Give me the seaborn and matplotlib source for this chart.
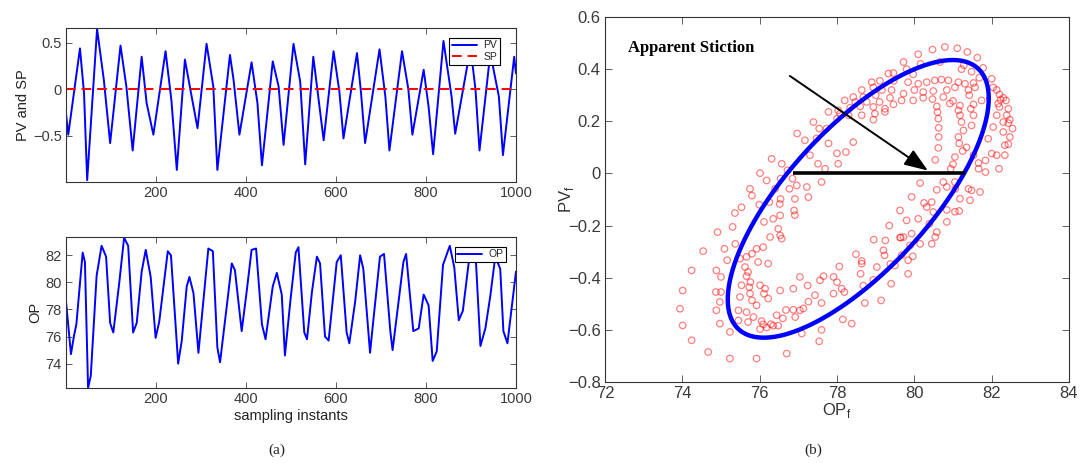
import numpy as np
import pandas as pd
import matplotlib
matplotlib.use("Agg")
import matplotlib.pyplot as plt
import seaborn as sns

# ---------------- data ----------------
# PV (read at extrema / knees of the trace)
pv_x = [1, 6, 32, 41, 48, 70, 85, 99, 122, 135, 149, 169, 180, 195, 222, 235, 247,
        265, 280, 293, 313, 328, 337, 365, 373, 386, 413, 426, 436, 460, 473, 484,
        506, 521, 532, 550, 561, 573, 595, 608, 617, 647, 656, 665, 697, 710, 719,
        747, 761, 770, 795, 806, 816, 839, 857, 865, 899, 910, 919, 943, 962, 971,
        996, 1000]
pv_y = [-0.26, -0.49, 0.44, -0.04, -0.98, 0.65, 0.10, -0.58, 0.47, 0.03, -0.66, 0.35,
        -0.15, -0.49, 0.41, -0.12, -0.87, 0.32, -0.08, -0.42, 0.49, 0.03, -0.87, 0.37,
        0.10, -0.49, 0.29, -0.15, -0.82, 0.30, 0.03, -0.60, 0.49, 0.08, -0.81, 0.35,
        -0.08, -0.55, 0.41, -0.03, -0.53, 0.39, -0.04, -0.58, 0.43, -0.08, -0.66,
        0.41, 0.0, -0.49, 0.21, -0.19, -0.70, 0.52, -0.08, -0.48, 0.45, 0.0, -0.66,
        0.39, -0.08, -0.71, 0.35, 0.17]
sp_x = [1, 1000]
sp_y = [0.0, 0.0]

# OP
op_x = [0, 12, 19, 24, 38, 43, 50, 56, 69, 80, 90, 99, 106, 119, 130, 139, 150, 158,
        169, 178, 189, 200, 208, 227, 234, 250, 258, 269, 275, 284, 295, 317, 327,
        337, 343, 361, 369, 376, 391, 402, 413, 423, 436, 444, 460, 469, 480, 487,
        499, 511, 517, 530, 536, 547, 558, 565, 576, 584, 602, 611, 624, 630, 643,
        654, 661, 676, 683, 698, 707, 721, 726, 739, 750, 756, 772, 784, 795, 806,
        815, 824, 838, 853, 863, 873, 882, 897, 910, 921, 932, 943, 954, 965, 972,
        981, 1000]
op_y = [78.95, 74.7, 76.1, 76.9, 82.2, 81.5, 72.2, 73.1, 80.5, 82.7, 81.9, 77.0, 76.3,
        79.9, 83.3, 82.7, 76.3, 77.0, 80.8, 82.4, 80.4, 75.9, 77.1, 82.3, 82.0, 74.0,
        75.7, 79.7, 80.4, 79.2, 74.8, 82.5, 82.3, 75.2, 74.1, 79.1, 81.4, 80.9, 76.4,
        79.3, 82.4, 82.5, 76.9, 75.8, 79.7, 80.7, 79.1, 74.6, 78.6, 82.2, 82.6, 76.3,
        75.8, 79.3, 81.9, 81.4, 76.0, 75.7, 81.5, 82.0, 76.3, 75.5, 78.6, 82.0, 81.0,
        74.8, 77.1, 81.9, 82.1, 76.4, 75.0, 78.5, 81.5, 82.1, 76.4, 76.6, 79.1, 78.3,
        74.2, 74.9, 81.3, 82.7, 81.1, 77.2, 77.9, 82.0, 82.2, 75.3, 76.6, 79.0, 81.9,
        81.0, 76.4, 75.5, 80.8]

# filtered OP vs PV scatter
opf = [80.79, 81.11, 80.47, 80.10, 81.37, 81.63, 79.72, 80.16, 80.66, 81.28, 81.78,
       79.80, 79.46, 79.33, 81.22, 81.48, 82.00, 81.68, 79.97, 79.11, 78.90, 79.47,
       79.84, 80.10, 80.32, 80.53, 80.70, 80.88, 81.14, 81.31, 81.53, 82.04, 82.13,
       82.20, 82.30, 82.37, 82.23, 82.17, 78.64, 78.94, 79.16, 79.41, 79.72, 80.00,
       80.23, 80.49, 80.84, 81.05, 81.40, 81.57, 81.42, 78.42, 78.68, 79.00, 79.37,
       79.67, 79.97, 80.23, 80.47, 80.75, 81.00, 81.74, 82.43, 82.20, 78.20, 78.47,
       78.77, 79.10, 79.46, 80.58, 80.92, 81.18, 81.53, 82.13, 82.39, 78.03, 78.34,
       78.60, 78.94, 79.24, 80.60, 81.14, 81.46, 82.47, 82.43, 82.54, 77.78, 78.08,
       78.64, 78.98, 79.24, 80.62, 81.18, 81.53, 82.04, 82.47, 82.43, 82.30, 82.30,
       77.39, 77.54, 77.73, 78.00, 78.30, 78.94, 80.63, 81.22, 81.27, 81.48, 81.91,
       82.34, 82.13, 82.34, 82.19, 76.97, 77.17, 77.47, 77.78, 77.30, 78.00, 78.23,
       78.42, 78.03, 77.51, 77.69, 80.63, 80.62, 81.14, 81.16, 81.35, 81.25, 81.05,
       80.54, 81.00, 81.53, 81.66, 81.84, 81.84, 81.66, 82.00, 76.31, 76.57, 76.72,
       76.01, 76.85, 76.54, 76.18, 75.75, 75.80, 76.40, 76.77, 76.96, 77.22, 77.60,
       77.26, 76.91, 76.54, 76.25, 76.52, 76.89, 76.91, 75.99, 75.53, 75.36, 80.15,
       79.93, 80.25, 80.45, 80.58, 80.84, 81.05, 80.75, 80.94, 81.06, 81.18, 81.40,
       81.48, 81.70, 81.44, 80.84, 81.05, 81.16, 80.84, 79.63, 79.80, 80.10, 80.32,
       80.49, 80.39, 80.58, 80.54, 80.45, 80.15, 79.89, 79.63, 79.65, 79.96, 79.84,
       79.67, 79.84, 79.35, 78.95, 79.20, 79.23, 79.25, 79.38, 79.50, 79.40, 79.72,
       79.93, 79.03, 78.94, 79.14, 78.72, 78.49, 78.64, 78.61, 78.64, 78.68, 78.38,
       78.15, 78.06, 78.00, 78.19, 77.91, 77.65, 77.60, 77.60, 77.54, 77.26, 77.43,
       77.24, 77.13, 77.09, 76.87, 76.68, 76.60, 76.44, 76.70, 76.53, 76.22, 76.14,
       76.11, 76.01, 76.09, 76.05, 75.92, 76.35, 76.18, 76.01, 75.84, 75.92, 75.80,
       75.75, 75.73, 75.76, 75.66, 75.70, 75.62, 75.96, 76.22, 75.92, 75.80, 75.66,
       75.49, 75.53, 75.49, 75.45, 75.66, 75.70, 75.45, 75.23, 75.23, 74.97, 74.88,
       74.97, 74.87, 75.00, 74.88, 75.00, 75.09, 74.91, 75.30, 75.37, 75.16, 74.54,
       74.24, 74.01, 73.94, 74.01, 74.24, 74.67, 76.09, 76.27, 76.53, 76.57, 76.35,
       76.53, 76.11, 76.48, 77.04, 77.91, 78.12, 77.56, 76.92, 77.04, 76.87, 76.48,
       76.29]
pvf = [0.485, 0.480, 0.475, 0.457, 0.466, 0.444, 0.427, 0.420, 0.427, 0.415, 0.405,
       0.400, 0.385, 0.383, 0.400, 0.390, 0.363, 0.367, 0.380, 0.355, 0.350, 0.355,
       0.350, 0.344, 0.350, 0.357, 0.360, 0.357, 0.350, 0.344, 0.347, 0.330, 0.320,
       0.303, 0.290, 0.280, 0.283, 0.268, 0.320, 0.330, 0.320, 0.320, 0.306, 0.320,
       0.312, 0.316, 0.320, 0.330, 0.320, 0.330, 0.300, 0.293, 0.293, 0.300, 0.290,
       0.280, 0.280, 0.290, 0.285, 0.293, 0.278, 0.280, 0.248, 0.255, 0.280, 0.274,
       0.274, 0.274, 0.265, 0.257, 0.268, 0.260, 0.265, 0.223, 0.223, 0.242, 0.252,
       0.257, 0.255, 0.248, 0.235, 0.242, 0.248, 0.206, 0.193, 0.172, 0.236, 0.229,
       0.223, 0.229, 0.236, 0.210, 0.223, 0.223, 0.178, 0.140, 0.112, 0.159, 0.197,
       0.197, 0.172, 0.172, 0.210, 0.223, 0.206, 0.175, 0.197, 0.165, 0.184, 0.133,
       0.108, 0.070, 0.070, 0.018, 0.153, 0.127, 0.134, 0.115, 0.070, 0.077, 0.082,
       0.120, 0.037, 0.037, 0.018, 0.140, 0.098, 0.140, 0.115, 0.100, 0.086, 0.063,
       0.052, 0.035, 0.070, 0.040, 0.050, 0.005, 0.018, 0.076, 0.056, 0.037, 0.012,
       0.001, -0.020, -0.020, -0.027, -0.059, -0.085, -0.059, -0.059, -0.046, -0.052,
       -0.033, -0.091, -0.098, -0.098, -0.110, -0.117, -0.142, -0.160, -0.120, -0.130,
       -0.152, -0.037, -0.090, -0.113, -0.110, -0.063, -0.052, -0.033, -0.033, 0.018,
       -0.059, -0.097, -0.059, -0.065, -0.071, -0.103, -0.140, -0.147, -0.144, -0.186,
       -0.142, -0.180, -0.174, -0.129, -0.148, -0.193, -0.225, -0.244, -0.270, -0.270,
       -0.276, -0.246, -0.246, -0.318, -0.333, -0.314, -0.385, -0.200, -0.254, -0.295,
       -0.314, -0.257, -0.347, -0.353, -0.423, -0.244, -0.231, -0.359, -0.408, -0.487,
       -0.497, -0.310, -0.346, -0.385, -0.336, -0.430, -0.576, -0.560, -0.357, -0.417,
       -0.455, -0.397, -0.394, -0.497, -0.600, -0.644, -0.492, -0.467, -0.430, -0.518,
       -0.614, -0.442, -0.524, -0.556, -0.544, -0.691, -0.449, -0.480, -0.442, -0.461,
       -0.429, -0.579, -0.566, -0.710, -0.584, -0.591, -0.597, -0.551, -0.506, -0.487,
       -0.461, -0.436, -0.417, -0.394, -0.378, -0.359, -0.340, -0.346, -0.289, -0.308,
       -0.320, -0.327, -0.429, -0.474, -0.525, -0.532, -0.570, -0.564, -0.608, -0.710,
       -0.576, -0.525, -0.493, -0.455, -0.455, -0.372, -0.397, -0.289, -0.225, -0.205,
       -0.270, -0.333, -0.298, -0.372, -0.449, -0.519, -0.583, -0.640, -0.685, -0.283,
       -0.244, -0.238, -0.250, -0.174, -0.161, -0.186, -0.212, -0.397, -0.461, -0.442,
       -0.410, -0.551, -0.525, -0.523, -0.584, -0.578]

# fitted ellipse parameters (centre, semi-axes, phase)
ell_cx, ell_cy, ell_a, ell_b, ell_phi = 78.55, -0.0975, 3.375, 0.5325, 0.81
# apparent stiction marks
stic_op = [76.86, 81.30]
stic_pv = [0.0, 0.0]
arrow_from = (76.78, 0.374)
arrow_to = (80.35, 0.011)
label_pos = (72.6, 0.48)

# ---------------- plotting ----------------
sns.set_theme(style="ticks")
plt.rcParams['font.family'] = ['Liberation Sans', 'DejaVu Sans']
plt.rcParams['xtick.direction'] = 'in'
plt.rcParams['ytick.direction'] = 'in'
plt.rcParams['axes.linewidth'] = 0.8

W, H = 1085, 463
fig = plt.figure(figsize=(W / 100, H / 100), dpi=100)
fig.patch.set_facecolor('white')


def px_axes(l, t, r, b):
    return fig.add_axes([l / W, 1 - b / H, (r - l) / W, (b - t) / H])


tick_col = '#3a3a3a'


def style(ax, fs):
    ax.tick_params(axis='both', which='both', top=True, right=True,
                   labelsize=fs, colors='#444444', labelcolor=tick_col,
                   length=4, width=0.6, pad=3)
    for s in ax.spines.values():
        s.set_color('#333333')
        s.set_linewidth(0.8)


legend_kw = dict(fontsize=7.5, frameon=True, fancybox=False, edgecolor='black',
                 borderpad=0.25, handlelength=2.4, labelspacing=0.15,
                 handletextpad=0.6, framealpha=1.0)

# top-left: PV and SP
ax1 = px_axes(66, 28, 516, 182)
df_pv = pd.DataFrame({'x': pv_x, 'y': pv_y})
df_sp = pd.DataFrame({'x': sp_x, 'y': sp_y})
sns.lineplot(data=df_pv, x='x', y='y', ax=ax1, color='#0000ff', lw=1.4, label='PV')
sns.lineplot(data=df_sp, x='x', y='y', ax=ax1, color='#ff0000', lw=1.4,
             linestyle=(0, (5, 3)), label='SP')
ax1.set_xlim(1, 1000)
ax1.set_ylim(-1.0, 0.66)
ax1.set_xticks([200, 400, 600, 800, 1000])
ax1.set_yticks([-0.5, 0, 0.5])
ax1.set_yticklabels(['\u22120.5', '0', '0.5'])
ax1.set_xlabel('')
ax1.set_ylabel('PV and SP', fontsize=10.5, color='#222222', labelpad=2)
style(ax1, 10.5)
leg = ax1.legend(loc='upper right', bbox_to_anchor=(0.975, 0.97), **legend_kw)
leg.get_frame().set_linewidth(0.8)

# bottom-left: OP
ax2 = px_axes(66, 237, 516, 388)
df_op = pd.DataFrame({'x': op_x, 'y': op_y})
sns.lineplot(data=df_op, x='x', y='y', ax=ax2, color='#0000ff', lw=1.4, label='OP')
ax2.set_xlim(1, 1000)
ax2.set_ylim(72.2, 83.35)
ax2.set_xticks([200, 400, 600, 800, 1000])
ax2.set_yticks([74, 76, 78, 80, 82])
ax2.set_xlabel('sampling instants', fontsize=10.5, color='#222222', labelpad=2)
ax2.set_ylabel('OP', fontsize=10.5, color='#222222', labelpad=2)
style(ax2, 10.5)
leg2 = ax2.legend(loc='upper right', bbox_to_anchor=(0.99, 0.97), **legend_kw)
leg2.get_frame().set_linewidth(0.8)

# right: OP_f vs PV_f
ax3 = px_axes(605, 17, 1069, 382)
df_sc = pd.DataFrame({'op': opf, 'pv': pvf})
sns.scatterplot(data=df_sc, x='op', y='pv', ax=ax3, marker='o', s=22,
                facecolors='none', edgecolor='#ff0000', linewidth=0.9, alpha=0.5)
t = np.linspace(0, 2 * np.pi, 400)
df_el = pd.DataFrame({'x': ell_cx + ell_a * np.cos(t),
                      'y': ell_cy + ell_b * np.sin(t + ell_phi)})
ax3.plot(df_el['x'], df_el['y'], color='#0000ff', lw=3.2)
ax3.plot(stic_op, stic_pv, color='black', lw=2.6, solid_capstyle='butt')
ax3.annotate('', xy=arrow_to, xytext=arrow_from,
             arrowprops=dict(arrowstyle='-|>,head_length=1.2,head_width=0.45',
                             color='black', lw=1.4, shrinkA=0, shrinkB=0))
ax3.text(label_pos[0], label_pos[1], 'Apparent Stiction', fontsize=12,
         fontweight='bold', family=['Liberation Serif', 'DejaVu Serif'],
         color='black', va='center', ha='left')
ax3.set_xlim(72, 84)
ax3.set_ylim(-0.8, 0.6)
ax3.set_xticks([72, 74, 76, 78, 80, 82, 84])
ax3.set_yticks([-0.8, -0.6, -0.4, -0.2, 0, 0.2, 0.4, 0.6])
ax3.set_yticklabels(['\u22120.8', '\u22120.6', '\u22120.4', '\u22120.2', '0',
                     '0.2', '0.4', '0.6'])
ax3.set_xlabel('OP$_\\mathregular{f}$', fontsize=12, color='#333333', labelpad=0)
ax3.set_ylabel('PV$_\\mathregular{f}$', fontsize=12, color='#333333', labelpad=-6)
style(ax3, 12)
ax3.tick_params(length=5)

# captions
fig.text(277 / W, 1 - 450 / H, '(a)', fontsize=11, ha='center', va='center',
         family=['Liberation Serif', 'DejaVu Serif'])
fig.text(813 / W, 1 - 450 / H, '(b)', fontsize=11, ha='center', va='center',
         family=['Liberation Serif', 'DejaVu Serif'])

fig.savefig('out.png', dpi=100, facecolor='white')
